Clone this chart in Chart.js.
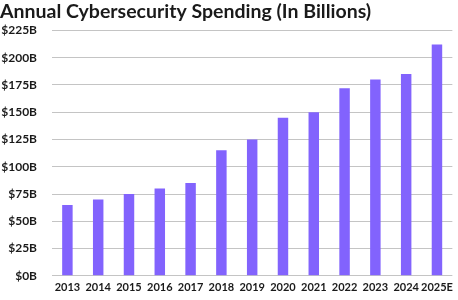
<!DOCTYPE html>
<html>
<head>
<meta charset="utf-8">
<script src="https://cdn.jsdelivr.net/npm/chart.js@4.4.1/dist/chart.umd.min.js"></script>
<style>
  html, body { margin: 0; padding: 0; background: #ffffff; }
  #wrap { width: 458px; height: 300px; }
</style>
</head>
<body>
<div id="wrap"><canvas id="chart" width="458" height="300"></canvas></div>
<script>
// Dados do gráfico
const years = ['2013', '2014', '2015', '2016', '2017', '2018', '2019', '2020', '2021', '2022', '2023', '2024', '2025E'];
const spending = [65, 70, 75, 80, 85, 115, 125, 145, 150, 172, 180, 185, 212];
const yTicks = [0, 25, 50, 75, 100, 125, 150, 175, 200, 225];

const ctx = document.getElementById('chart').getContext('2d');
new Chart(ctx, {
    type: 'bar',
    data: {
        labels: years,
        datasets: [{
            label: 'Spending',
            data: spending,
            backgroundColor: '#8263fd',
            barPercentage: 0.34,
            categoryPercentage: 1.0,
        }]
    },
    options: {
        responsive: false,
        animation: false,
        layout: { padding: { left: 0, right: 3, top: 0, bottom: 1 } },
        plugins: {
            legend: { display: false },
            tooltip: { enabled: false },
            title: {
                display: true,
                text: 'Annual Cybersecurity Spending (In Billions)',
                align: 'start',
                color: '#1a1a1a',
                font: { family: 'Lato', size: 19.5, weight: 'bold' },
                padding: { top: 0, bottom: 7 }
            }
        },
        scales: {
            x: {
                grid: { display: false, drawTicks: false },
                border: { display: false },
                ticks: {
                    color: '#1a1a1a',
                    font: { family: 'Lato', size: 11, weight: 'bold' },
                    maxRotation: 0,
                    autoSkip: false,
                    padding: 5
                }
            },
            y: {
                min: 0,
                max: 225,
                afterBuildTicks: (axis) => { axis.ticks = yTicks.map(v => ({ value: v })); },
                afterFit: (axis) => { axis.width = 52; },
                grid: { color: '#c4c4c4', lineWidth: 1, drawTicks: false },
                border: { display: false },
                ticks: {
                    color: '#1a1a1a',
                    font: { family: 'Lato', size: 12, weight: 'bold' },
                    padding: 15,
                    callback: (v) => `$${v}B`
                }
            }
        }
    }
});
</script>
</body>
</html>
